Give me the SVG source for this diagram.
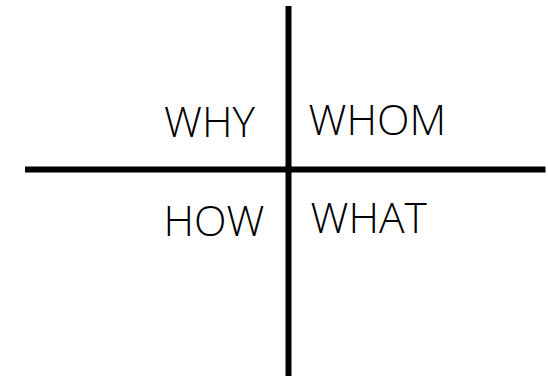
<svg xmlns="http://www.w3.org/2000/svg" width="548" height="376" viewBox="0 0 548 376">
<style>
.ln{stroke:#000;stroke-width:6;fill:none}
.t{font-family:"Open Sans","Liberation Sans",sans-serif;font-weight:300;font-size:42.5px;fill:#000}
</style>
<rect width="548" height="376" fill="#fff"/>
<g id="connectors">
<line class="ln" x1="288.5" y1="6" x2="288.5" y2="376"/>
<line class="ln" x1="25" y1="169.5" x2="545.5" y2="169.5"/>
</g>
<g id="why"><text class="t" x="164" y="136.7">WHY</text></g>
<g id="whom"><text class="t" x="308.5" y="135">WHOM</text></g>
<g id="how"><text class="t" x="163.5" y="235.7">HOW</text></g>
<g id="what"><text class="t" x="310.5" y="233.3">WHAT</text></g>
</svg>
